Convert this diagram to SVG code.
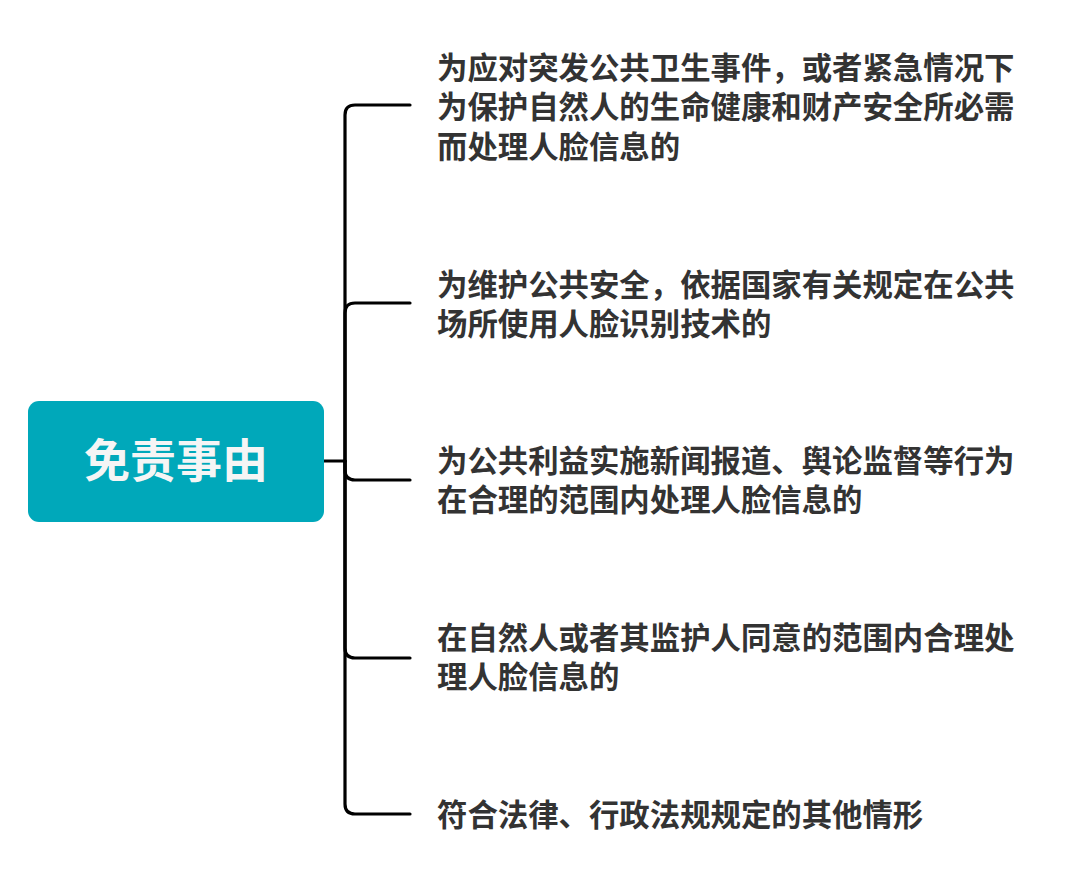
<svg xmlns="http://www.w3.org/2000/svg" width="1080" height="880" viewBox="0 0 1080 880">
<style>
.conn{fill:none;stroke:#000;stroke-width:3.2;stroke-linecap:round;stroke-linejoin:round}
.t{font-family:"Noto Sans CJK SC","Noto Sans",sans-serif;font-weight:700;font-size:30.4px;fill:#333333}
.root{font-family:"Noto Sans CJK SC","Noto Sans",sans-serif;font-weight:700;font-size:46px;fill:#F5F5F5}
</style>
<rect width="1080" height="880" fill="#ffffff"/>
<g id="connectors">
<path class="conn" d="M324,461 H345"/>
<path class="conn" d="M345,461 V115 Q345,105 355,105 H410"/>
<path class="conn" d="M345,461 V313 Q345,303 355,303 H410"/>
<path class="conn" d="M345,461 V470 Q345,480 355,480 H410"/>
<path class="conn" d="M345,461 V648 Q345,658 355,658 H410"/>
<path class="conn" d="M345,461 V804 Q345,814 355,814 H410"/>
</g>
<g id="root">
<rect x="28" y="401" width="296" height="121" rx="11" fill="#00A8BA"/>
<text class="root" x="176" y="477" text-anchor="middle">免责事由</text>
</g>
<g id="n1">
<text class="t" x="437" y="79">为应对突发公共卫生事件，或者紧急情况下</text>
<text class="t" x="437" y="118">为保护自然人的生命健康和财产安全所必需</text>
<text class="t" x="437" y="158">而处理人脸信息的</text>
</g>
<g id="n2">
<text class="t" x="437" y="296">为维护公共安全，依据国家有关规定在公共</text>
<text class="t" x="437" y="335">场所使用人脸识别技术的</text>
</g>
<g id="n3">
<text class="t" x="437" y="472">为公共利益实施新闻报道、舆论监督等行为</text>
<text class="t" x="437" y="511">在合理的范围内处理人脸信息的</text>
</g>
<g id="n4">
<text class="t" x="437" y="649">在自然人或者其监护人同意的范围内合理处</text>
<text class="t" x="437" y="688">理人脸信息的</text>
</g>
<g id="n5">
<text class="t" x="437" y="826">符合法律、行政法规规定的其他情形</text>
</g>
</svg>
